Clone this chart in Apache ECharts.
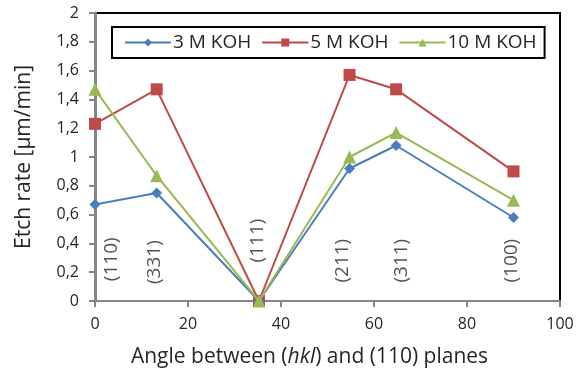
<!DOCTYPE html>
<html><head><meta charset="utf-8">
<script src="https://cdn.jsdelivr.net/npm/echarts@6/dist/echarts.min.js"></script>
<style>html,body{margin:0;padding:0;background:#fff}#c{width:581px;height:368px}</style>
</head><body><div id="c"></div>
<script>
const angles = [0, 13.26, 35.26, 54.74, 64.76, 90];
const koh3 = [0.67, 0.75, 0, 0.92, 1.08, 0.58];
const koh5 = [1.23, 1.47, 0, 1.57, 1.47, 0.90];
const koh10 = [1.47, 0.87, 0, 1.00, 1.17, 0.70];
const seriesNames = ['3 M KOH', '5 M KOH', '10 M KOH'];
const planeLabels = ['(110)', '(331)', '(111)', '(211)', '(311)', '(100)'];
const planeLabelX = [3.6, 12.8, 35, 53.3, 66, 89.5];
const planeLabelY = [0.29, 0.27, 0.42, 0.28, 0.28, 0.28];
const xTicks = [0, 20, 40, 60, 80, 100];
const yMax = 2, yStep = 0.2;

const FONT = 'Open Sans';
const txt = '#262626';
const chart = echarts.init(document.getElementById('c'));
const pairs = (ys) => angles.map((a, i) => [a, ys[i]]);
chart.setOption({
  animation: false,
  textStyle: { fontFamily: FONT },
  grid: { left: 95, right: 21, top: 13, bottom: 67, show: true, borderColor: '#000', borderWidth: 2,
    containLabel: false, outerBoundsMode: 'none' },
  legend: {
    data: seriesNames,
    left: 112, top: 27,
    padding: [6, 8, 6, 12],
    borderColor: '#000', borderWidth: 2,
    itemWidth: 46, itemHeight: 10, itemGap: 10,
    textStyle: { fontFamily: FONT, fontSize: 19, color: txt, padding: [0, 0, 0, -3] }
  },
  xAxis: {
    type: 'value', min: 0, max: 100, interval: 20,
    axisLine: { show: true, lineStyle: { color: '#868686', width: 2 } },
    axisTick: { show: true, length: 6, lineStyle: { color: '#868686', width: 2 } },
    splitLine: { show: false },
    axisLabel: { fontFamily: FONT, fontSize: 16, color: txt, margin: 15 },
    name: 'Angle between ({i|hkl}) and (110) planes',
    nameLocation: 'middle', nameGap: 46,
    nameTextStyle: { fontFamily: FONT, fontSize: 21, color: txt, padding: [0, 36, 0, 0],
      rich: { i: { fontStyle: 'italic', fontFamily: FONT, fontSize: 21, color: txt } } }
  },
  yAxis: {
    type: 'value', min: 0, max: yMax, interval: yStep,
    axisLine: { show: true, lineStyle: { color: '#868686', width: 3 } },
    axisTick: { show: true, length: 6, lineStyle: { color: '#868686', width: 2 } },
    splitLine: { show: false },
    axisLabel: { fontFamily: FONT, fontSize: 16, color: txt, margin: 16,
      formatter: v => String(Math.round(v * 10) / 10).replace('.', ',') },
    name: 'Etch rate [µm/min]',
    nameLocation: 'middle', nameGap: 60,
    nameTextStyle: { fontFamily: FONT, fontSize: 21, color: txt }
  },
  series: [
    { name: seriesNames[0], type: 'line', data: pairs(koh3), symbol: 'diamond', symbolSize: 11,
      lineStyle: { color: '#4A7EBB', width: 2 }, itemStyle: { color: '#4A7EBB' }, z: 3 },
    { name: seriesNames[1], type: 'line', data: pairs(koh5), symbol: 'rect', symbolSize: 12,
      lineStyle: { color: '#BE4B48', width: 2 }, itemStyle: { color: '#BE4B48' }, z: 2 },
    { name: seriesNames[2], type: 'line', data: pairs(koh10), symbol: 'triangle', symbolSize: 13,
      lineStyle: { color: '#98B954', width: 2 }, itemStyle: { color: '#98B954' }, z: 4 },
    { name: 'planes', type: 'scatter', symbolSize: 0, silent: true,
      data: planeLabelX.map((x, i) => ({ value: [x, planeLabelY[i]], name: planeLabels[i] })),
      label: { show: true, position: 'inside', rotate: 90, formatter: p => p.name,
        fontFamily: FONT, fontSize: 19, color: txt, align: 'center', verticalAlign: 'middle' } }
  ]
});
</script></body></html>
